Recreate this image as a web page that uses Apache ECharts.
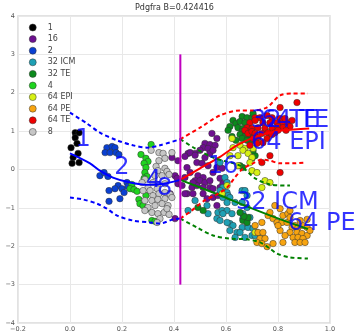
<!DOCTYPE html>
<html>
<head>
<meta charset="utf-8">
<script src="https://cdn.jsdelivr.net/npm/echarts@6/dist/echarts.min.js"></script>
<style>
  html, body { margin: 0; padding: 0; background: #fff; }
  #chart { width: 360px; height: 333px; }
</style>
</head>
<body>
<div id="chart"></div>
<script>
// Pdgfra expression vs pseudotime: cells by stage, principal curves and bands.
const gene = 'Pdgfra';
const branchB = 0.424416;

// axes
const xMin = -0.2, xMax = 1.0, xStep = 0.2;
const yMin = -4, yMax = 4, yStep = 1;

// stage names (legend order) and colours
const stageNames = ['1', '16', '2', '32 ICM', '32 TE', '4', '64 EPI', '64 PE', '64 TE', '8'];
const stageColors = ['#000000', '#6e1090', '#0a40d2', '#1fa0b4', '#0b8a1c', '#1fd41f', '#d6f014', '#f7a410', '#ee0000', '#c6c6c6'];

// cells: [pseudotime, expression]
const cells1 = [[0.02,0.96],[0.035,0.96],[0.02,0.83],[0.027,0.68],[0.004,0.57],[0.031,0.42],[0.012,0.31],[0.008,0.16],[0.035,0.18]];
const cells2 = [[0.142,0.57],[0.162,0.60],[0.173,0.57],[0.135,0.44],[0.154,0.44],[0.177,0.44],[0.188,0.39],
  [0.115,-0.16],[0.131,-0.08],[0.146,-0.18],[0.185,-0.42],[0.173,-0.50],[0.200,-0.50],[0.208,-0.60],
  [0.150,-0.55],[0.192,-0.76],[0.150,-0.83],[0.219,-0.34],[0.223,-0.44]];
const cells4 = [[0.312,0.65],[0.273,0.39],[0.292,0.29],[0.300,0.21],[0.285,0.16],[0.292,0.05],[0.288,-0.08],
  [0.296,-0.18],[0.285,-0.23],[0.238,-0.39],[0.231,-0.50],[0.246,-0.52],[0.258,-0.57],[0.292,-0.68],
  [0.265,-0.78],[0.269,-0.89],[0.281,-0.94],[0.296,-1.02],[0.315,-1.33],[0.327,-1.35]];
const cells8 = [[0.312,0.50],[0.342,0.44],[0.358,0.42],[0.392,0.44],[0.365,0.29],[0.342,0.23],[0.331,0.08],
  [0.365,0.03],[0.338,-0.03],[0.373,-0.05],[0.327,-0.16],[0.354,-0.16],[0.381,-0.13],[0.288,-0.26],
  [0.319,-0.34],[0.277,-0.34],[0.338,-0.39],[0.365,-0.37],[0.300,-0.47],[0.281,-0.55],[0.308,-0.55],
  [0.335,-0.50],[0.319,-0.68],[0.342,-0.63],[0.365,-0.60],[0.385,-0.65],[0.288,-0.81],[0.315,-0.81],
  [0.338,-0.78],[0.365,-0.76],[0.392,-0.73],[0.300,-0.99],[0.327,-0.94],[0.354,-0.89],[0.377,-0.94],
  [0.288,-1.07],[0.315,-1.12],[0.338,-1.15],[0.362,-1.12],[0.381,-1.17],[0.346,-1.28],[0.335,-1.38],[0.373,-1.02]];
const cells16 = [[0.392,0.31],[0.415,0.23],[0.454,0.42],[0.481,0.42],[0.404,-0.16],[0.415,-0.37],[0.442,-0.21],
  [0.450,-0.63],[0.404,-1.28],[0.385,-0.63],[0.546,0.94],[0.565,0.81],[0.519,0.68],[0.538,0.65],[0.558,0.63],
  [0.512,0.57],[0.531,0.55],[0.462,0.44],[0.500,0.50],[0.442,0.34],[0.481,0.37],[0.519,0.31],[0.538,0.42],
  [0.550,0.50],[0.488,0.18],[0.508,0.16],[0.531,0.10],[0.450,0.05],[0.462,-0.08],[0.492,-0.16],[0.512,-0.21],
  [0.481,-0.29],[0.500,-0.29],[0.519,-0.34],[0.538,-0.29],[0.469,-0.47],[0.488,-0.42],[0.512,-0.47],
  [0.538,-0.47],[0.412,-0.23],[0.550,-0.08],[0.565,0.05],[0.585,0.03],[0.577,-0.23],[0.588,-0.37],
  [0.473,-0.34],[0.550,-0.50],[0.577,-0.47],[0.442,-0.63],[0.473,-0.63],[0.512,-0.63],[0.527,-0.76],
  [0.550,-0.73],[0.569,-0.68],[0.431,-0.42],[0.596,-0.68],[0.565,-0.94]];
const cells32ICM = [[0.577,0.18],[0.596,-0.21],[0.604,-0.34],[0.588,-0.47],[0.577,-0.55],[0.604,-0.60],
  [0.662,-0.55],[0.673,-0.55],[0.681,-0.68],[0.608,-0.68],[0.588,-0.73],[0.615,-0.73],[0.635,-0.86],
  [0.662,-0.86],[0.604,-0.86],[0.481,-0.81],[0.527,-0.94],[0.454,-1.07],[0.531,-1.15],[0.569,-1.12],
  [0.585,-1.07],[0.604,-1.07],[0.588,-1.15],[0.623,-1.15],[0.665,-1.15],[0.681,-0.99],[0.565,-1.28],
  [0.577,-1.33],[0.615,-1.41],[0.627,-1.46],[0.604,-1.38],[0.665,-1.28],[0.692,-1.25],[0.662,-1.51],
  [0.685,-1.51],[0.642,-1.64],[0.654,-1.64],[0.615,-1.59],[0.635,-1.77],[0.673,-1.77],[0.700,-1.72],
  [0.712,-1.72],[0.719,-1.64],[0.731,-1.67],[0.704,-1.54]];
const cells32TE = [[0.662,1.38],[0.681,1.35],[0.700,1.35],[0.704,1.46],[0.627,1.28],[0.638,1.20],[0.654,1.25],
  [0.673,1.22],[0.615,1.12],[0.608,1.02],[0.646,1.09],[0.665,1.07],[0.685,1.09],[0.662,0.99],[0.681,0.96],
  [0.654,0.91],[0.673,0.86],[0.692,0.89],[0.662,0.81],[0.681,0.76],[0.700,0.76],[0.712,0.36],[0.704,0.49],
  [0.700,0.29],[0.665,0.05],[0.654,0.10],[0.638,0.76],[0.623,0.86],[0.492,-0.99],[0.512,-1.07],
  [0.665,-1.33],[0.681,-1.38],[0.685,-1.25],[0.669,-1.22],[0.654,-1.12]];
const cells64EPI = [[0.623,0.81],[0.627,0.57],[0.654,0.63],[0.673,0.55],[0.665,0.50],[0.615,0.36],[0.646,0.36],
  [0.685,0.42],[0.700,0.31],[0.692,0.18],[0.646,0.10],[0.700,-0.03],[0.719,-0.08],[0.750,-0.29],
  [0.769,-0.34],[0.738,-0.47],[0.604,-0.42],[0.712,-1.64],[0.585,-0.63],[0.704,0.55]];
const cells64PE = [[0.762,-1.20],[0.781,-1.28],[0.769,-1.12],[0.796,-1.38],[0.815,-1.38],[0.835,-1.38],
  [0.819,-1.20],[0.838,-1.15],[0.846,-1.07],[0.808,-1.02],[0.788,-0.94],[0.854,-1.51],[0.865,-1.46],
  [0.877,-1.51],[0.896,-1.46],[0.912,-1.51],[0.846,-1.64],[0.873,-1.64],[0.892,-1.67],[0.912,-1.72],
  [0.858,-1.77],[0.877,-1.77],[0.896,-1.80],[0.865,-1.90],[0.885,-1.90],[0.723,-1.64],[0.731,-1.80],
  [0.750,-1.80],[0.719,-1.90],[0.738,-1.93],[0.758,-2.01],[0.781,-1.93],[0.819,-1.90],[0.904,-1.90],
  [0.846,-1.25],[0.742,-1.64],[0.808,-1.59],[0.827,-1.72],[0.885,-1.33],[0.912,-1.30],[0.923,-1.59],
  [0.800,-1.46],[0.738,-1.38],[0.712,-1.46]];
const cells64TE = [[0.873,1.745],[0.808,1.615],[0.712,1.35],[0.731,1.35],[0.758,1.41],[0.777,1.35],[0.808,1.33],
  [0.692,1.22],[0.712,1.28],[0.742,1.22],[0.769,1.22],[0.796,1.22],[0.819,1.22],[0.838,1.22],[0.827,1.33],
  [0.681,1.09],[0.700,1.07],[0.723,1.09],[0.750,1.07],[0.777,1.07],[0.800,1.12],[0.819,1.09],[0.673,1.02],
  [0.685,0.94],[0.700,0.99],[0.712,0.94],[0.738,0.94],[0.762,0.96],[0.788,0.96],[0.800,1.02],[0.704,0.81],
  [0.723,0.83],[0.758,0.81],[0.777,0.91],[0.742,0.70],[0.719,0.68],[0.846,1.12],[0.854,1.28],[0.738,0.18],
  [0.769,0.36],[0.808,-0.08],[0.692,0.63],[0.831,1.02]];
const cellsByStage = [cells1, cells16, cells2, cells32ICM, cells32TE, cells4, cells64EPI, cells64PE, cells64TE, cells8];

// principal curves
const curveEarly = [[0.0,0.42],[0.077,0.16],[0.115,-0.03],[0.165,-0.21],[0.231,-0.34],[0.30,-0.40],[0.36,-0.37],[0.424,-0.27]];
const curveTE = [[0.424,-0.27],[0.50,0.03],[0.577,0.33],[0.65,0.66],[0.73,0.89],[0.82,1.02],[0.92,1.07]];
const curveICM = [[0.424,-0.27],[0.55,-0.60],[0.68,-0.96],[0.81,-1.30],[0.915,-1.55]];

// confidence bands
const bandEarlyUpper = [[0,1.48],[0.065,1.2],[0.115,0.96],[0.181,0.76],[0.242,0.63],[0.296,0.57],[0.346,0.63],[0.424,0.79]];
const bandEarlyLower = [[0,-0.73],[0.05,-0.78],[0.104,-0.89],[0.142,-1.02],[0.181,-1.20],[0.242,-1.33],[0.308,-1.38],[0.346,-1.41],[0.396,-1.30],[0.424,-1.28]];
const bandTEUpper = [[0.424,0.79],[0.50,1.09],[0.577,1.41],[0.654,1.54],[0.704,1.54],[0.758,1.62],[0.808,1.93],[0.858,1.98],[0.915,1.98]];
const bandTELower = [[0.424,-1.28],[0.462,-1.10],[0.519,-0.80],[0.565,-0.65],[0.604,-0.47],[0.635,-0.20],[0.665,0.02],[0.704,0.16],[0.738,0.26],[0.769,0.23],[0.808,0.16],[0.858,0.16],[0.904,0.18]];
const bandICMUpper = [[0.424,0.79],[0.481,0.55],[0.558,0.29],[0.654,0.10],[0.712,-0.23],[0.769,-0.39],[0.846,-0.42]];
const bandICMLower = [[0.424,-1.28],[0.488,-1.51],[0.55,-1.72],[0.615,-1.80],[0.681,-1.82],[0.731,-1.90],[0.769,-2.06],[0.796,-2.19],[0.846,-2.29],[0.915,-2.32]];

// branch marker
const branchLine = [[branchB, -3], [branchB, 3]];

// stage annotations along the curves
const stageLabels = ['1', '2', '4', '8', '16', '32 TE', '64 TE', '64 EPI', '32 ICM', '64 PE'];
const stageLabelAt = [[0.021,0.78],[0.17,0.04],[0.292,-0.29],[0.335,-0.49],[0.53,0.08],[0.696,1.28],[0.735,1.28],[0.696,0.70],[0.638,-0.86],[0.838,-1.41]];

const FONT = 'DejaVu Sans';

const series = [];
stageNames.forEach((name, i) => {
  series.push({
    name: name,
    type: 'scatter',
    data: cellsByStage[i],
    symbol: 'circle',
    symbolSize: 6.5,
    itemStyle: { color: stageColors[i], borderColor: '#333', borderWidth: 0.5, opacity: 1 },
    emphasis: { disabled: true },
    z: 2
  });
});

function line(data, color, dashed) {
  return {
    type: 'line',
    data: data,
    showSymbol: false,
    smooth: 0.3,
    lineStyle: { color: color, width: 2, type: dashed ? [4, 3] : 'solid' },
    emphasis: { disabled: true },
    silent: true,
    z: 3
  };
}
series.push(line(curveEarly, '#0000ff', false));
series.push(line(curveTE, '#ff0000', false));
series.push(line(curveICM, '#008000', false));
series.push(line(bandEarlyUpper, '#0000ff', true));
series.push(line(bandEarlyLower, '#0000ff', true));
series.push(line(bandTEUpper, '#ff0000', true));
series.push(line(bandTELower, '#ff0000', true));
series.push(line(bandICMUpper, '#008000', true));
series.push(line(bandICMLower, '#008000', true));
series.push(Object.assign(line(branchLine, '#bf00bf', false), { smooth: false }));

series.push({
  type: 'scatter',
  data: stageLabels.map((n, i) => ({ name: n, value: stageLabelAt[i] })),
  symbolSize: 0,
  silent: true,
  clip: false,
  z: 5,
  label: {
    show: true,
    formatter: '{b}',
    position: [0, 0],
    align: 'left',
    verticalAlign: 'middle',
    color: '#0000ff',
    fontFamily: FONT,
    fontSize: 24
  }
});

const chart = echarts.init(document.getElementById('chart'), null, { renderer: 'canvas' });
chart.setOption({
  animation: false,
  backgroundColor: '#ffffff',
  title: {
    text: gene + ' B=' + branchB,
    left: 135,
    top: 4,
    padding: 0,
    textStyle: { fontFamily: FONT, fontSize: 8, fontWeight: 'normal', color: '#333' }
  },
  legend: {
    data: stageNames,
    orient: 'vertical',
    left: 29,
    top: 23,
    padding: 0,
    itemWidth: 8,
    itemHeight: 7,
    itemGap: 2.6,
    icon: 'circle',
    itemStyle: { borderColor: '#333', borderWidth: 0.5 },
    textStyle: { fontFamily: FONT, fontSize: 8, color: '#444', lineHeight: 9, padding: [0, 0, 0, 6] },
    selectedMode: false
  },
  grid: {
    left: 18, right: 30, top: 16, bottom: 10,
    show: true, borderColor: '#d9d9d9', borderWidth: 1.5, backgroundColor: 'transparent'
  },
  xAxis: {
    type: 'value', min: xMin, max: xMax, interval: xStep,
    axisLine: { show: false }, axisTick: { show: false },
    splitLine: { lineStyle: { color: '#e8e8e8', width: 1 } },
    axisLabel: {
      margin: 3, fontFamily: FONT, fontSize: 6.5, color: '#555',
      formatter: v => v.toFixed(1).replace('-', '\u2212')
    }
  },
  yAxis: {
    type: 'value', min: yMin, max: yMax, interval: yStep,
    axisLine: { show: false }, axisTick: { show: false },
    splitLine: { lineStyle: { color: '#e8e8e8', width: 1 } },
    axisLabel: {
      margin: 3, fontFamily: FONT, fontSize: 6.5, color: '#555',
      formatter: v => String(Math.round(v)).replace('-', '\u2212')
    }
  },
  series: series
});
</script>
</body>
</html>
